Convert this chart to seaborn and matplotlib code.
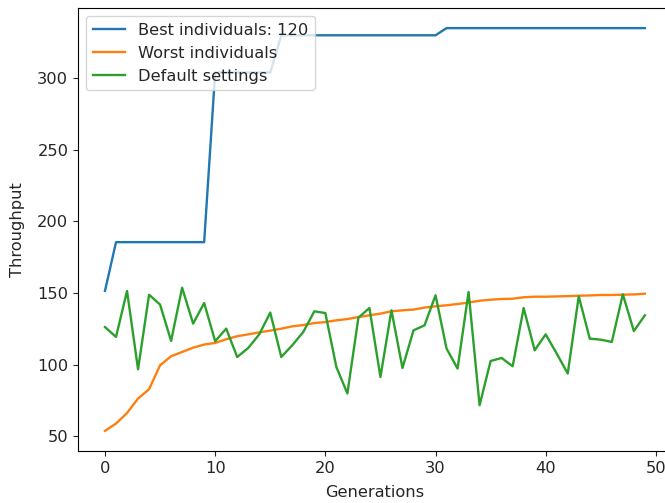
import pandas as pd
import numpy as np
import matplotlib
matplotlib.use('Agg')
import matplotlib.pyplot as plt
import seaborn as sns

# Dados
generations = list(range(50))

best = [151.5] + [185.5] * 9 + [304] * 6 + [330] * 15 + [335] * 19

worst = [53.7, 58.8, 66.2, 76.3, 82.8, 99.5, 105.8, 108.8, 111.8, 114.0,
         115.1, 117.7, 119.8, 121.1, 122.5, 123.7, 125.1, 126.7, 127.6, 129.0,
         129.7, 130.9, 131.8, 133.2, 134.4, 135.6, 137.2, 137.9, 138.4, 139.8,
         140.7, 141.4, 142.3, 143.3, 144.6, 145.3, 145.8, 146.0, 147.0, 147.4,
         147.4, 147.6, 147.8, 148.1, 148.3, 148.6, 148.6, 148.8, 149.0, 149.5]

default = [126.2, 119.3, 151.4, 96.7, 148.8, 141.9, 116.5, 153.7, 128.6, 143.0,
           116.3, 125.1, 105.3, 111.6, 121.1, 136.3, 105.3, 113.5, 122.8, 137.2,
           136.0, 98.3, 79.8, 132.8, 139.5, 91.3, 137.9, 97.6, 123.9, 127.4,
           148.4, 111.2, 97.2, 150.7, 71.6, 102.5, 104.6, 98.8, 139.5, 110.0,
           121.1, 107.7, 93.7, 147.7, 118.1, 117.4, 115.8, 149.1, 123.4, 134.4]

labels = ['Best individuals: 120', 'Worst individuals', 'Default settings']

df = pd.DataFrame({'Generations': generations * 3,
                   'Throughput': best + worst + default,
                   'serie': [labels[0]] * 50 + [labels[1]] * 50 + [labels[2]] * 50})

plt.rcParams['font.size'] = 11.7
plt.rcParams['text.color'] = '#262626'
plt.rcParams['axes.labelcolor'] = '#262626'
plt.rcParams['xtick.color'] = '#262626'
plt.rcParams['ytick.color'] = '#262626'

fig = plt.figure(figsize=(6.65, 5.03), dpi=100)
ax = fig.add_axes([0.1173, 0.1034, 0.893, 0.8807])

sns.lineplot(data=df, x='Generations', y='Throughput', hue='serie',
             palette=['#1f77b4', '#ff7f0e', '#2ca02c'], linewidth=1.7, ax=ax)

ax.set_xticks([0, 10, 20, 30, 40, 50])
ax.set_yticks([50, 100, 150, 200, 250, 300])
ax.set_xlabel('Generations', labelpad=6.5)
ax.set_ylabel('Throughput', labelpad=9)
ax.legend(loc='upper left', title=None)

plt.savefig('out.png', dpi=100)
